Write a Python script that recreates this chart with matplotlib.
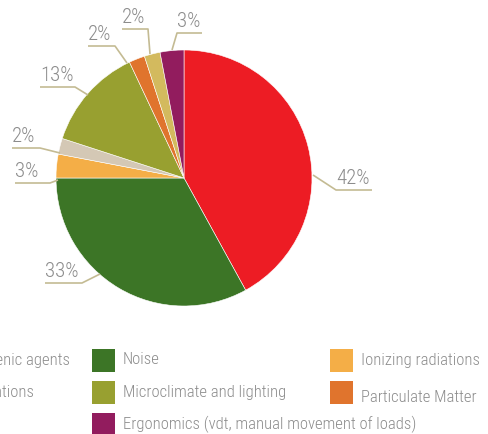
import matplotlib.pyplot as plt
from matplotlib.patches import Rectangle
from matplotlib import font_manager

installed = {f.name for f in font_manager.fontManager.ttflist}
family = 'Roboto'
for cand in ['Roboto Condensed', 'Liberation Sans Narrow', 'Open Sans Condensed', 'Roboto']:
    if cand in installed:
        family = cand
        break
plt.rcParams['font.family'] = [family, 'DejaVu Sans']

# slices, clockwise from 12 o'clock
labels = ['Chemical and carcinogenic agents', 'Noise', 'Ionizing radiations',
          'Biological agents', 'Microclimate and lighting', 'Particulate Matter',
          'Non-ionizing radiations', 'Ergonomics (vdt, manual movement of loads)']
values = [42, 33, 3, 2, 13, 2, 2, 3]
colors = ['#ED1C24', '#3C7526', '#F4AE47', '#D4C8B5', '#98A030', '#E0742D',
          '#D3BA5E', '#921C5E']

# legend layout: columns (the left one falls off the figure edge)
legend_cols = [['Chemical and carcinogenic agents', 'Non-ionizing radiations'],
               ['Noise', 'Microclimate and lighting', 'Ergonomics (vdt, manual movement of loads)'],
               ['Ionizing radiations', 'Particulate Matter']]

# label layout in pixels: (pie edge point, elbow, underline end)
leaders = [
    [(313, 175), (336, 190), (372, 190)],
    [(100, 274), (82, 283), (45, 283)],
    [(58, 180), (50, 183), (15, 183)],
    [(60, 153), (40, 148), (12, 148)],
    [(88, 95), (75, 87), (40, 87)],
    [(127, 63), (115, 46), (88, 46)],
    [(150, 54), (148, 29), (122, 29)],
    [(172, 50), (177, 33), (202, 33)],
]

fig = plt.figure(figsize=(4.88, 4.34), dpi=100)
ax = fig.add_axes([0, 0, 1, 1])
renderer = fig.canvas.get_renderer()


def fit_size(s, width_px, max_pt, weight='light'):
    t = fig.text(0, 0, s, fontsize=10, fontweight=weight)
    w = t.get_window_extent(renderer).width
    t.remove()
    return min(max_pt, 10 * width_px / w)


# halfway between the width fit and the height of the reference glyphs
pct_size = 0.5 * (fit_size('42%', 36, 15) + 15)
leg_size = 0.5 * (fit_size('Ionizing radiations', 118, 12) + 12)

ax.pie(values, colors=colors, center=(184, 178), radius=128,
       startangle=-90, counterclock=True,
       wedgeprops=dict(edgecolor='white', linewidth=0.4))

line_c = '#C4BB93'
text_c = '#8C8C8C'
for v, pts in zip(values, leaders):
    xs, ys = zip(*pts)
    ax.plot(xs, ys, color=line_c, lw=1.2, solid_capstyle='butt')
    x0 = min(pts[1][0], pts[2][0])
    ax.text(x0, pts[2][1] - 2, f'{v}%', color=text_c, fontsize=pct_size,
            fontweight='light', ha='left', va='bottom')

# legend
col_x = [-146, 92, 330]
row_y = [360, 392, 424]
left_ends = [70, 34]
for i, (cx, names) in enumerate(zip(col_x, legend_cols)):
    for j, (ry, name) in enumerate(zip(row_y, names)):
        c = colors[labels.index(name)]
        ax.add_patch(Rectangle((cx, ry - 11.5), 23, 23, facecolor=c, edgecolor='none',
                               clip_on=False))
        dy = 6 if name == 'Particulate Matter' else 0
        if i == 0:
            ax.text(left_ends[j], ry, name, color=text_c, fontsize=leg_size,
                    fontweight='light', ha='right', va='center')
        else:
            ax.text(cx + 31, ry + dy, name, color=text_c, fontsize=leg_size,
                    fontweight='light', ha='left', va='center')

ax.set_xlim(0, 488)
ax.set_ylim(434, 0)
ax.set_aspect('auto')
ax.axis('off')

fig.savefig('out.png', dpi=100)
